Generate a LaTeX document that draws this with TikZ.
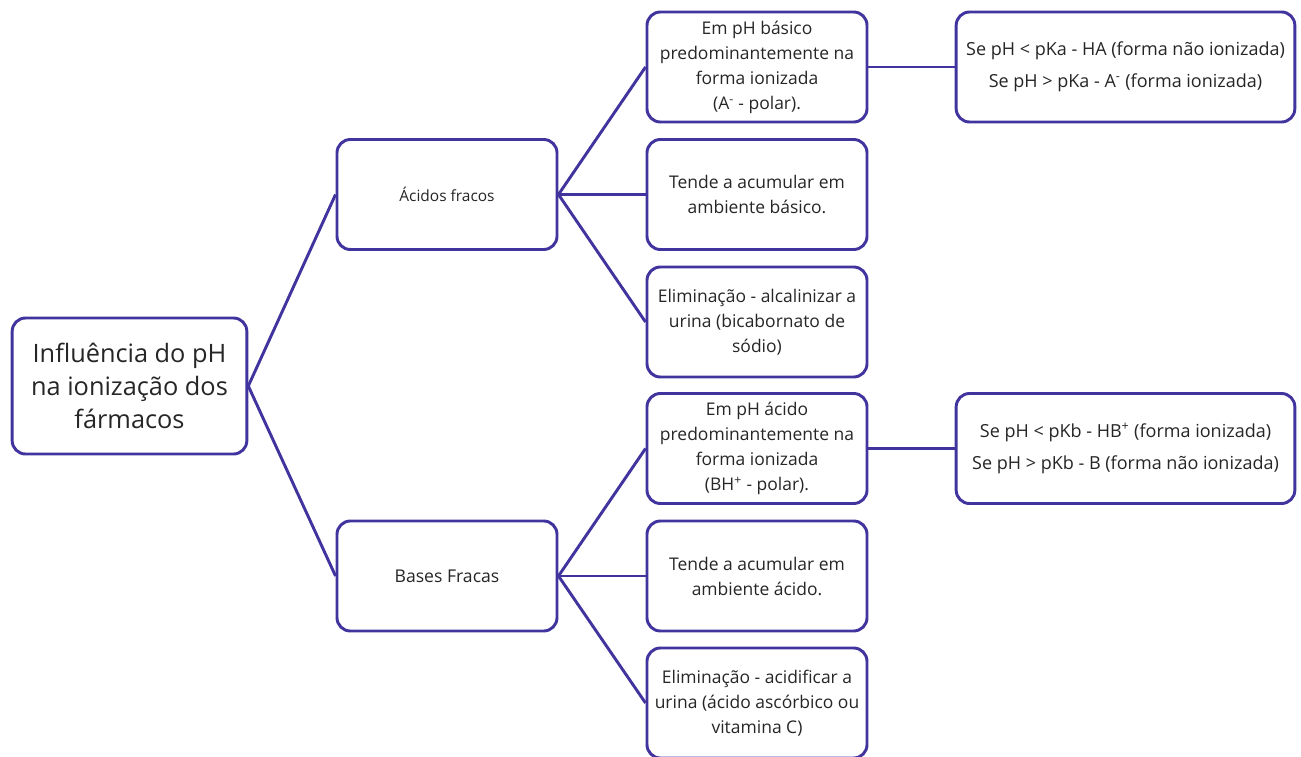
\documentclass[tikz,border=0pt]{standalone}
\usepackage{fontspec}
\setmainfont{Open Sans}
\definecolor{edgecol}{RGB}{66,52,158}
\begin{document}
\begin{tikzpicture}[x=0.75pt,y=-0.75pt,
  box/.style={draw=edgecol, line width=2.2pt, rounded corners=10pt, align=center,
    inner sep=0pt, fill=white, text=black!85, minimum width=165pt, minimum height=82.5pt},
  rootbox/.style={box, minimum width=176pt, minimum height=102pt, font=\fontsize{19}{24.75}\selectfont},
  lvlone/.style={box, font=\fontsize{11.6}{14}\selectfont},
  lvltwo/.style={box, font=\fontsize{13.1}{18.75}\selectfont},
  lvlthree/.style={box, minimum width=254pt, font=\fontsize{13.5}{18}\selectfont},
  link/.style={draw=edgecol, line width=2.2pt}]
\useasboundingbox (0,0) rectangle (1301,756);
\clip (0,0) rectangle (1301,756);
\node[rootbox] (root) at (129.5,386) {Influência do pH\\na ionização dos\\fármacos};
\node[lvlone] (acid) at (447,194.5) {Ácidos fracos};
\node[lvlone, font=\fontsize{13.2}{14}\selectfont] (base) at (447,576) {Bases Fracas};
\node[lvltwo] (b1) at (757,67) {Em pH básico\\predominantemente na\\forma ionizada\\(A\textsuperscript{-} - polar).};
\node[lvltwo] (b2) at (757,194.5) {Tende a acumular em\\ambiente básico.};
\node[lvltwo] (b3) at (757,322) {Eliminação - alcalinizar a\\urina (bicabornato de\\sódio)};
\node[lvltwo] (b4) at (757,448.5) {Em pH ácido\\predominantemente na\\forma ionizada\\(BH\textsuperscript{+} - polar).};
\node[lvltwo] (b5) at (757,576) {Tende a acumular em\\ambiente ácido.};
\node[lvltwo] (b6) at (757,703) {Eliminação - acidificar a\\urina (ácido ascórbico ou\\vitamina C)};
\node[lvlthree] (c1) at (1125.5,67) {Se pH < pKa - HA (forma não ionizada)\\[6pt]Se pH > pKa - A\textsuperscript{-} (forma ionizada)};
\node[lvlthree] (c2) at (1125.5,448.5) {Se pH < pKb - HB\textsuperscript{+} (forma ionizada)\\[6pt]Se pH > pKb - B (forma não ionizada)};
\draw[link] (root.east) -- (acid.west);
\draw[link] (root.east) -- (base.west);
\draw[link] (acid.east) -- (b1.west);
\draw[link] (acid.east) -- (b2.west);
\draw[link] (acid.east) -- (b3.west);
\draw[link] (base.east) -- (b4.west);
\draw[link] (base.east) -- (b5.west);
\draw[link] (base.east) -- (b6.west);
\draw[link] (b1.east) -- (c1.west);
\draw[link] (b4.east) -- (c2.west);
\end{tikzpicture}
\end{document}
